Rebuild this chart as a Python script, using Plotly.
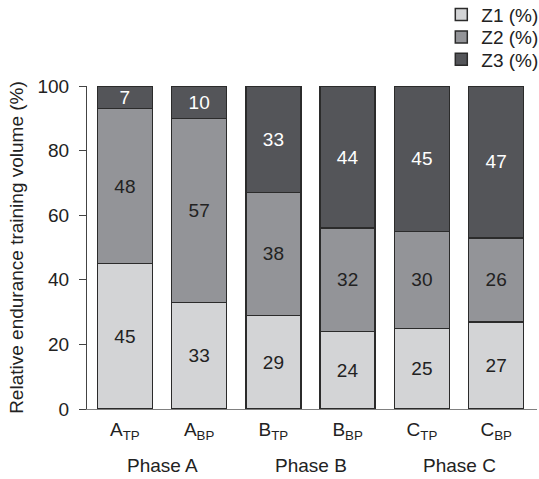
import plotly.graph_objects as go

# Training intensity distribution per period (percent of endurance volume)
periods = ["A<sub>TP</sub>", "A<sub>BP</sub>", "B<sub>TP</sub>",
           "B<sub>BP</sub>", "C<sub>TP</sub>", "C<sub>BP</sub>"]
phases = ["Phase A", "Phase B", "Phase C"]

z1 = [45, 33, 29, 24, 25, 27]
z2 = [48, 57, 38, 32, 30, 26]
z3 = [7, 10, 33, 44, 45, 47]

series_names = ["Z1 (%)", "Z2 (%)", "Z3 (%)"]
series_values = [z1, z2, z3]
fill_colors = ["#d3d4d6", "#939498", "#545559"]
label_colors = ["#222222", "#222222", "#ffffff"]
legend_ids = ["legend", "legend2", "legend3"]
legend_tops = [1.280, 1.210, 1.141]

FONT = "Liberation Sans, Arial, Helvetica, sans-serif"
FS = 19
x_idx = list(range(len(periods)))

fig = go.Figure()
for name, vals, fc, tc, lg in zip(series_names, series_values, fill_colors,
                                  label_colors, legend_ids):
    fig.add_trace(go.Bar(
        x=x_idx,
        y=vals,
        name=name,
        legend=lg,
        width=0.74,
        marker=dict(color=fc, line=dict(color="#2b2b2b", width=1.5)),
        text=[str(v) for v in vals],
        textposition="inside",
        insidetextanchor="middle",
        textangle=0,
        constraintext="none",
        textfont=dict(family=FONT, size=FS, color=tc),
        hoverinfo="skip",
    ))

# Phase group labels under each pair of bars
for i, ph in enumerate(phases):
    fig.add_annotation(
        x=2 * i + 0.5, y=-0.176, xref="x", yref="paper",
        text=ph, showarrow=False, yanchor="middle",
        font=dict(family=FONT, size=FS, color="#222222"),
    )

# Vertical axis title
fig.add_annotation(
    x=-0.157, y=0.5, xref="paper", yref="paper",
    text="Relative endurance training volume (%)",
    textangle=-90, showarrow=False,
    xanchor="center", yanchor="middle",
    font=dict(family=FONT, size=FS, color="#222222"),
)

legend_style = dict(
    x=1.014, xanchor="right", yanchor="top",
    font=dict(family=FONT, size=FS, color="#222222"),
    bgcolor="rgba(0,0,0,0)",
    itemclick=False, itemdoubleclick=False,
)

fig.update_layout(
    barmode="stack",
    width=539,
    height=479,
    margin=dict(l=87, r=2, t=86, b=70, autoexpand=False),
    paper_bgcolor="white",
    plot_bgcolor="white",
    font=dict(family=FONT, size=FS, color="#222222"),
    uniformtext=dict(minsize=FS, mode="show"),
    showlegend=True,
    legend=dict(y=legend_tops[0], **legend_style),
    legend2=dict(y=legend_tops[1], **legend_style),
    legend3=dict(y=legend_tops[2], **legend_style),
    xaxis=dict(
        range=[-0.51, 5.55],
        tickmode="array",
        tickvals=x_idx,
        ticktext=periods,
        showline=True,
        linecolor="#808080",
        linewidth=1,
        ticks="",
        ticklabelstandoff=3,
        showgrid=False,
        zeroline=False,
        automargin=False,
        tickfont=dict(family=FONT, size=FS, color="#222222"),
        fixedrange=True,
    ),
    yaxis=dict(
        range=[0, 100],
        tickmode="array",
        tickvals=[0, 20, 40, 60, 80, 100],
        showline=True,
        linecolor="#444444",
        linewidth=1,
        ticks="outside",
        ticklen=7,
        tickcolor="#444444",
        ticklabelstandoff=6,
        showgrid=False,
        zeroline=False,
        automargin=False,
        tickfont=dict(family=FONT, size=FS, color="#222222"),
        fixedrange=True,
    ),
)

fig.write_html("out.html")
